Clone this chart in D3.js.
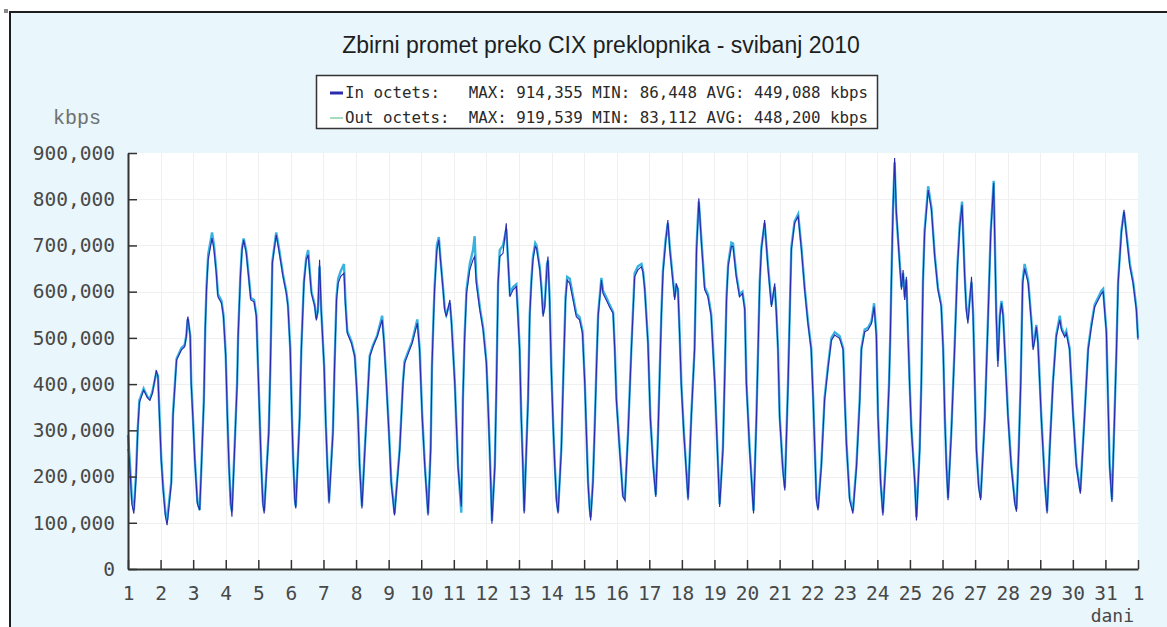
<!DOCTYPE html>
<html><head><meta charset="utf-8">
<script src="https://cdn.jsdelivr.net/npm/d3@7"></script>
<style>
html,body{margin:0;padding:0;background:#fff;}
svg{display:block;}
text{white-space:pre;}
</style></head>
<body>
<div id="chart"></div>
<script>
// ---------- DATA ----------
const chartTitle = "Zbirni promet preko CIX preklopnika - svibanj 2010";
const seriesNames = ["In octets:   ", "Out octets:  "];
const seriesStats = ["MAX: 914,355 MIN: 86,448 AVG: 449,088 kbps",
                     "MAX: 919,539 MIN: 83,112 AVG: 448,200 kbps"];
const yTickValues = [0, 100, 200, 300, 400, 500, 600, 700, 800, 900]; // thousands of kbps
const xTickLabels = ["1","2","3","4","5","6","7","8","9","10","11","12","13","14","15","16",
  "17","18","19","20","21","22","23","24","25","26","27","28","29","30","31","1"];

// sample time, in days since 1 May 00:00
const sampleDay = [
  0.00,0.05,0.12,0.18,0.25,0.30,0.35,0.48,0.60,0.67,0.75,0.87,0.92,0.97,1.02,1.08,1.15,1.20,
  1.33,1.38,1.49,1.64,1.74,1.79,1.82,1.84,1.91,1.94,1.99,2.05,2.13,2.20,
  2.25,2.33,2.37,2.41,2.46,2.58,2.64,2.71,2.76,2.87,2.93,3.00,3.05,3.10,3.15,3.19,
  3.27,3.35,3.38,3.45,3.50,3.55,3.63,3.70,3.77,3.87,3.94,3.99,4.04,4.09,4.14,4.18,
  4.32,4.37,4.40,4.43,4.55,4.63,4.76,4.86,4.91,4.98,5.03,5.07,5.12,5.15,
  5.27,5.32,5.40,5.47,5.53,5.63,5.73,5.78,5.83,5.88,5.93,6.02,6.07,6.12,6.17,
  6.29,6.34,6.40,6.45,6.53,6.63,6.67,6.73,6.86,6.96,7.01,7.06,7.11,7.18,
  7.27,7.35,7.42,7.52,7.65,7.80,7.86,7.93,8.01,8.08,8.18,
  8.34,8.44,8.49,8.60,8.72,8.88,8.95,9.03,9.11,9.21,
  9.29,9.33,9.38,9.41,9.48,9.54,9.59,9.67,9.72,9.77,9.88,9.93,10.03,10.13,10.23,
  10.28,10.33,10.39,10.49,10.59,10.64,10.69,10.80,10.90,11.00,11.05,11.10,11.15,11.17,
  11.26,11.31,11.36,11.41,11.51,11.61,11.72,11.82,11.92,11.97,12.02,12.07,12.12,12.16,
  12.28,12.33,12.38,12.43,12.50,12.54,12.64,12.69,12.74,12.79,12.86,12.89,12.94,12.99,13.05,13.10,13.15,13.20,
  13.30,13.37,13.43,13.48,13.56,13.66,13.76,13.86,13.95,14.02,14.07,14.12,14.17,14.20,
  14.27,14.32,14.38,14.43,14.53,14.58,14.68,14.78,14.89,14.94,14.99,15.09,15.19,15.25,
  15.35,15.45,15.55,15.65,15.76,15.81,15.86,15.96,16.03,16.12,16.20,
  16.27,16.37,16.42,16.50,16.57,16.63,16.73,16.78,16.83,16.88,16.93,16.98,17.06,17.14,17.19,
  17.29,17.39,17.45,17.50,17.52,17.60,17.70,17.80,17.90,18.01,18.11,18.16,
  18.26,18.31,18.37,18.42,18.52,18.57,18.67,18.77,18.86,18.93,18.98,19.08,19.20,
  19.29,19.34,19.39,19.44,19.54,19.64,19.75,19.85,19.90,19.95,20.00,20.10,20.16,
  20.26,20.31,20.36,20.46,20.57,20.67,20.77,20.87,20.97,21.03,21.08,21.13,21.18,
  21.28,21.38,21.49,21.59,21.69,21.84,21.95,22.00,22.05,22.15,22.25,
  22.36,22.46,22.51,22.61,22.71,22.82,22.90,22.97,23.02,23.10,23.17,
  23.28,23.36,23.40,23.43,23.48,23.53,23.58,23.69,23.74,23.79,23.84,23.89,23.94,23.99,24.04,24.15,24.20,
  24.30,24.35,24.40,24.45,24.56,24.66,24.76,24.86,24.96,25.02,25.07,25.12,25.17,
  25.27,25.37,25.46,25.53,25.60,25.68,25.73,25.78,25.83,25.89,25.94,25.99,26.04,26.11,26.17,
  26.30,26.40,26.48,26.57,26.60,26.65,26.70,26.76,26.81,26.86,26.91,27.01,27.11,27.22,27.27,
  27.34,27.40,27.46,27.52,27.63,27.73,27.78,27.83,27.88,27.93,28.03,28.14,28.21,
  28.29,28.39,28.49,28.60,28.65,28.75,28.80,28.90,29.01,29.11,29.23,
  29.36,29.47,29.57,29.67,29.88,29.93,30.03,30.08,30.13,30.20,
  30.28,30.34,30.39,30.49,30.57,30.64,30.75,30.85,30.95,31.00
];

// In octets, thousands of kbps
const inKbps = [
  260,230,140,120,200,300,360,387,370,365,380,430,415,322,235,170,113,95,
  185,329,452,474,481,503,539,546,503,401,329,235,141,127,
  214,365,517,604,669,716,690,640,589,575,546,459,329,221,149,113,
  257,401,502,632,690,712,683,633,582,578,546,437,329,221,141,120,
  293,437,546,661,723,690,632,596,568,473,329,235,149,131,
  329,474,618,669,680,596,568,538,560,669,560,437,314,221,142,
  293,437,582,618,633,640,575,510,488,459,401,329,221,131,
  257,365,459,481,503,539,488,401,293,185,116,
  257,401,445,466,488,532,474,329,221,116,
  257,437,546,604,690,712,669,604,560,546,582,530,401,220,135,
  365,495,596,647,669,676,618,560,517,445,358,257,149,98,
  221,401,618,676,683,748,589,604,611,546,474,329,221,120,
  365,546,618,669,698,694,647,604,546,567,654,676,582,437,307,221,149,120,
  257,437,582,625,618,582,546,539,510,401,293,185,127,105,
  185,293,437,546,625,596,582,567,553,474,365,257,156,149,
  293,474,632,647,654,640,604,488,329,221,156,
  293,546,640,705,755,690,618,582,618,604,510,401,293,206,149,
  329,474,690,762,802,705,604,589,546,401,221,134,
  257,401,582,654,698,698,632,589,596,560,401,257,120,
  329,474,618,690,755,654,567,618,553,474,329,213,170,
  401,546,690,748,763,690,603,531,474,365,257,149,127,
  221,365,437,495,506,499,474,365,271,149,120,
  221,365,474,513,517,531,568,503,329,185,116,
  257,401,510,618,777,889,777,654,604,647,582,632,510,401,307,185,105,
  257,401,618,726,820,777,676,604,568,474,329,221,149,
  293,474,654,741,788,632,560,531,575,632,546,401,257,177,149,
  329,546,726,835,726,546,437,546,575,546,474,329,221,141,124,
  257,401,618,650,618,531,474,495,524,488,329,185,120,
  257,401,502,539,517,502,510,474,329,221,163,
  329,474,524,567,596,600,510,365,221,145,
  329,474,618,726,777,726,654,618,560,496
];

// Out octets, thousands of kbps
const outKbps = [
  290,240,150,128,210,305,365,390,372,368,384,425,418,330,240,176,120,105,
  190,335,455,478,485,505,530,540,505,405,332,240,146,128,
  218,370,520,610,680,728,700,645,595,580,550,462,335,225,140,125,
  260,405,505,636,695,715,688,638,586,582,550,440,333,226,146,126,
  298,440,550,665,728,696,636,600,572,476,333,240,152,135,
  332,478,622,673,690,600,572,542,558,655,562,440,318,226,146,
  298,442,588,628,645,660,585,515,492,462,405,333,226,136,
  262,370,462,484,506,548,492,405,296,190,120,
  262,405,450,470,492,540,478,333,226,120,
  262,440,552,610,700,718,672,608,565,550,575,535,405,225,122,
  370,500,604,660,690,720,628,566,522,448,362,262,153,104,
  226,405,622,690,700,735,598,610,616,552,478,333,226,125,
  370,550,624,676,705,700,652,610,552,570,660,668,588,440,312,226,153,124,
  262,440,588,632,628,590,552,545,515,405,296,190,132,112,
  190,298,442,552,630,602,588,572,556,478,370,262,160,152,
  298,478,640,655,660,644,608,492,333,226,160,
  298,550,646,712,748,696,624,588,612,606,514,405,298,210,154,
  333,478,695,772,795,712,610,594,552,405,226,140,
  262,405,588,660,706,704,638,594,600,565,405,262,126,
  333,478,622,696,748,660,572,610,558,478,333,218,176,
  405,552,696,752,768,696,608,536,478,370,262,154,132,
  226,370,442,500,512,504,478,370,276,154,126,
  226,370,478,518,522,536,575,508,333,190,122,
  262,405,515,622,780,880,770,658,610,640,588,626,515,405,312,190,112,
  262,405,622,732,828,782,680,608,572,478,333,226,154,
  298,478,660,748,795,638,566,540,580,620,552,405,262,182,154,
  333,552,730,840,732,552,450,550,580,552,478,333,226,146,130,
  262,405,624,660,624,536,480,500,528,492,333,190,125,
  262,405,506,548,522,506,515,478,333,226,168,
  333,478,530,572,602,606,515,370,226,150,
  333,478,622,732,772,730,660,622,565,500
];

// ---------- DRAWING ----------
const W = 1167, H = 627;
const plot = {left: 128, right: 1138, top: 153, bottom: 569};

const svg = d3.select("#chart").append("svg")
  .attr("width", W).attr("height", H)
  .attr("viewBox", `0 0 ${W} ${H}`);

svg.append("rect").attr("width", W).attr("height", H).attr("fill", "#ffffff");

// outer frame (only left + top edges visible)
svg.append("rect").attr("x", 10).attr("y", 12).attr("width", W + 20).attr("height", H + 20)
  .attr("fill", "#e9f6fb").attr("stroke", "#1e1e1e").attr("stroke-width", 2);
svg.append("rect").attr("x", 4).attr("y", 9).attr("width", 4).attr("height", 4).attr("fill", "#8a8a8a");

const x = d3.scaleLinear().domain([0, 31]).range([plot.left, plot.right]);
const y = d3.scaleLinear().domain([0, 900]).range([plot.bottom, plot.top]);

// plot background
svg.append("rect").attr("x", plot.left).attr("y", plot.top)
  .attr("width", plot.right - plot.left).attr("height", plot.bottom - plot.top)
  .attr("fill", "#ffffff");

// grid
const grid = svg.append("g").attr("stroke", "#f0f0f0").attr("stroke-width", 1);
grid.selectAll("line.v").data(d3.range(1, 31)).join("line")
  .attr("x1", d => Math.round(x(d)) + 0.5).attr("x2", d => Math.round(x(d)) + 0.5)
  .attr("y1", plot.top).attr("y2", plot.bottom);
grid.selectAll("line.h").data(yTickValues.slice(1, -1)).join("line")
  .attr("x1", plot.left).attr("x2", plot.right)
  .attr("y1", d => Math.round(y(d)) + 0.5).attr("y2", d => Math.round(y(d)) + 0.5);

// series
const n = Math.min(sampleDay.length, inKbps.length, outKbps.length);
const inData = d3.range(n).map(i => [sampleDay[i], inKbps[i]]);
const outData = d3.range(n).map(i => [sampleDay[i], outKbps[i]]);
const line = d3.line().x(d => x(d[0])).y(d => y(d[1])).curve(d3.curveLinear);

const outColor = "#3ab2e0", inColor = "#2a2aac";
svg.append("path").datum(outData).attr("d", line)
  .attr("fill", "none").attr("stroke", outColor).attr("stroke-width", 2.4);
svg.append("path").datum(inData).attr("d", line)
  .attr("fill", "none").attr("stroke", inColor).attr("stroke-width", 1.1);

// axes
const tickFont = "'DejaVu Sans Mono', monospace";
const yAxis = d3.axisLeft(y).tickValues(yTickValues)
  .tickFormat(d => d3.format(",")(d * 1000))
  .tickSizeInner(-9).tickSizeOuter(0).tickPadding(13);
const gy = svg.append("g").attr("transform", `translate(${plot.left},0)`).call(yAxis);

const xAxis = d3.axisBottom(x).tickValues(d3.range(0, 32))
  .tickFormat((d, i) => xTickLabels[i])
  .tickSizeInner(-9).tickSizeOuter(0).tickPadding(17);
const gx = svg.append("g").attr("transform", `translate(0,${plot.bottom})`).call(xAxis);

[gx, gy].forEach(g => {
  g.select(".domain").attr("stroke", "#333").attr("stroke-width", 2);
  g.selectAll(".tick line").attr("stroke", "#333").attr("stroke-width", 1.5);
  g.selectAll(".tick text").attr("fill", "#484848")
    .style("font-family", tickFont).style("font-size", "19.5px");
});

// axis titles
svg.append("text").attr("x", 53).attr("y", 124).text("kbps")
  .attr("fill", "#707070").style("font-family", "'Liberation Mono', monospace").style("font-size", "20px");
svg.append("text").attr("x", 1134).attr("y", 622).attr("text-anchor", "end").text("dani")
  .attr("fill", "#484848").style("font-family", tickFont).style("font-size", "18px");

// title
svg.append("text").attr("x", 601).attr("y", 53).attr("text-anchor", "middle").text(chartTitle)
  .attr("fill", "#1e1e1e").style("font-family", "'Liberation Sans', Arial, sans-serif").style("font-size", "23px");

// legend
const lg = svg.append("g");
lg.append("rect").attr("x", 316.5).attr("y", 75.5).attr("width", 561).attr("height", 53)
  .attr("fill", "#ffffff").attr("stroke", "#333").attr("stroke-width", 1.5);
const legendColors = [inColor, "#a8dcc0"];
[0, 1].forEach(i => {
  const cy = 93 + i * 25;
  lg.append("line").attr("x1", 330).attr("x2", 343).attr("y1", cy).attr("y2", cy)
    .attr("stroke", legendColors[i]).attr("stroke-width", i === 0 ? 3 : 2);
  lg.append("text").attr("x", 345).attr("y", cy + 5)
    .text(seriesNames[i] + seriesStats[i])
    .attr("fill", "#2a2a2a").style("font-family", tickFont).style("font-size", "15.8px");
});
</script>
</body></html>
